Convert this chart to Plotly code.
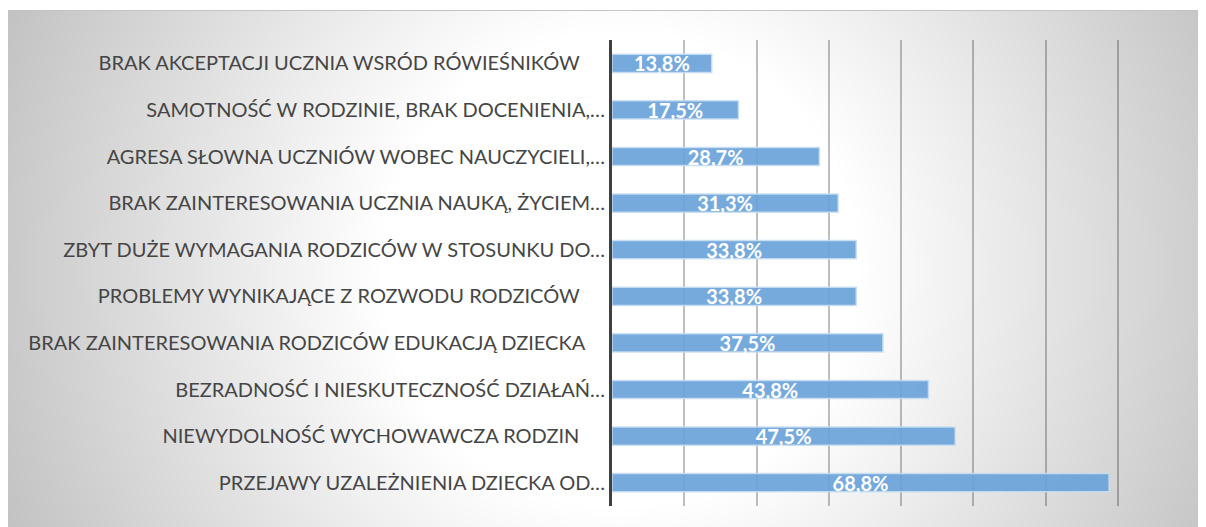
import base64
import struct
import zlib

import numpy as np
import plotly.graph_objects as go

# ---------------- data ----------------
categories = [
    "BRAK AKCEPTACJI UCZNIA WSRÓD RÓWIEŚNIKÓW" + "\u00a0" * 5,
    "SAMOTNOŚĆ W RODZINIE, BRAK DOCENIENIA,…",
    "AGRESA SŁOWNA UCZNIÓW WOBEC NAUCZYCIELI,…",
    "BRAK ZAINTERESOWANIA UCZNIA NAUKĄ, ŻYCIEM…",
    "ZBYT DUŻE WYMAGANIA RODZICÓW W STOSUNKU DO…",
    "PROBLEMY WYNIKAJĄCE Z ROZWODU RODZICÓW" + "\u00a0" * 5,
    "BRAK ZAINTERESOWANIA RODZICÓW EDUKACJĄ DZIECKA" + "\u00a0" * 4,
    "BEZRADNOŚĆ I NIESKUTECZNOŚĆ DZIAŁAŃ…",
    "NIEWYDOLNOŚĆ WYCHOWAWCZA RODZIN" + "\u00a0" * 5,
    "PRZEJAWY UZALEŻNIENIA DZIECKA OD…",
]
values = [13.8, 17.5, 28.7, 31.3, 33.8, 33.8, 37.5, 43.8, 47.5, 68.8]
value_labels = [f"{v:.1f}".replace(".", ",") + "%" for v in values]
x_ticks = [0, 10, 20, 30, 40, 50, 60, 70, 80]

# ---------------- layout geometry (figure sits at the page's 8px body offset) ----------------
W, H = 1198, 519
ML, MR, MT, MB = 604, 16, 32, 21
PW = W - ML - MR
PH = H - MT - MB


def px_to_paper_x(px):
    return (px - ML) / PW


def px_to_paper_y(py):
    return (H - MB - py) / PH


# ---------------- background gradient (radial, white centre -> grey) ----------------
bx0, by0 = 0, 3
bw, bh = W - bx0, H - by0
yy, xx = np.mgrid[0:bh, 0:bw]
cx, cy = 612 - bx0, 261 - by0
t = np.sqrt(((xx - cx) / 600.0) ** 2 + ((yy - cy) / 600.0) ** 2)
g = 255 - 85 * np.clip(t - 0.4, 0, None)
g = np.clip(g, 185, 255).astype(np.uint8)


def png_gray(arr):
    h, w = arr.shape
    raw = b"".join(b"\x00" + arr[i].tobytes() for i in range(h))

    def chunk(tag, data):
        return (struct.pack(">I", len(data)) + tag + data
                + struct.pack(">I", zlib.crc32(tag + data) & 0xFFFFFFFF))

    return (b"\x89PNG\r\n\x1a\n"
            + chunk(b"IHDR", struct.pack(">IIBBBBB", w, h, 8, 0, 0, 0, 0))
            + chunk(b"IDAT", zlib.compress(raw, 9))
            + chunk(b"IEND", b""))


bg_uri = "data:image/png;base64," + base64.b64encode(png_gray(g)).decode()

# ---------------- figure ----------------
fig = go.Figure(
    go.Bar(
        x=values,
        y=categories,
        orientation="h",
        text=value_labels,
        textposition="inside",
        insidetextanchor="middle",
        constraintext="none",
        textangle=0,
        textfont=dict(family="Lato", size=20, color="white", weight="bold"),
        marker=dict(color="rgba(106,163,217,0.92)",
                    line=dict(color="rgba(200,222,242,0.9)", width=1.5)),
        hoverinfo="skip",
        cliponaxis=False,
    )
)

fig.update_layout(
    width=W,
    height=H,
    margin=dict(l=ML, r=MR, t=MT, b=MB, pad=0),
    paper_bgcolor="white",
    plot_bgcolor="rgba(0,0,0,0)",
    bargap=0.61,
    showlegend=False,
    font=dict(family="Lato", color="#454545"),
    images=[dict(
        source=bg_uri,
        xref="paper", yref="paper",
        x=px_to_paper_x(bx0), y=px_to_paper_y(by0),
        sizex=bw / PW, sizey=bh / PH,
        xanchor="left", yanchor="top",
        sizing="stretch", layer="below",
    )],
    shapes=[dict(
        type="line", xref="paper", yref="paper",
        x0=px_to_paper_x(bx0), x1=px_to_paper_x(W),
        y0=px_to_paper_y(2.5), y1=px_to_paper_y(2.5),
        line=dict(color="#c4c4c4", width=1),
    )],
)

fig.update_xaxes(
    range=[0, 80],
    tickvals=x_ticks,
    showticklabels=False,
    showgrid=True,
    gridcolor="rgba(0,0,0,0.25)",
    gridwidth=1.5,
    zeroline=False,
    showline=False,
    fixedrange=True,
)
fig.update_yaxes(
    autorange="reversed",
    showline=True,
    linecolor="#404040",
    linewidth=3,
    ticks="",
    ticklabelstandoff=0,
    tickfont=dict(family="Lato", size=20, color="#454545"),
    showgrid=False,
    fixedrange=True,
)

fig.write_html("out.html", config={"displayModeBar": False})
